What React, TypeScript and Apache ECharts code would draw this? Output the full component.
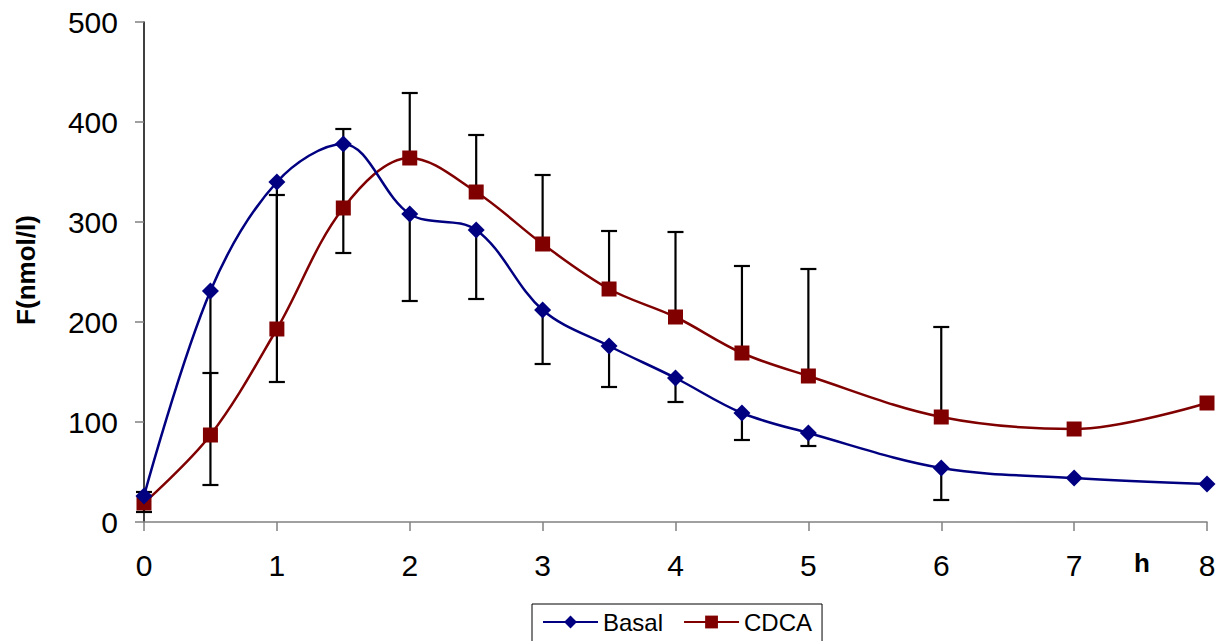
import React, { useEffect, useRef } from "react";
import * as echarts from "echarts";

const times = [0, 0.5, 1, 1.5, 2, 2.5, 3, 3.5, 4, 4.5, 5, 6, 7, 8];
const basal = [26, 231, 340, 378, 308, 292, 212, 176, 144, 109, 89, 54, 44, 38];
const cdca = [19, 87, 193, 314, 364, 330, 278, 233, 205, 169, 146, 105, 93, 119];
// error bar end points: CDCA upward, Basal downward
const cdcaUpperEnd: (number | null)[] = [30, 149, 327, 393, 429, 387, 347, 291, 290, 256, 253, 195, null, null];
const basalLowerEnd: (number | null)[] = [10, 37, 140, 269, 221, 223, 158, 135, 120, 82, 76, 22, null, null];
const yTicks = { min: 0, max: 500, interval: 100 };
const xTicks = { min: 0, max: 8, interval: 1 };

const FONT = "'Liberation Sans', Arial, sans-serif";

export default function App() {
  const ref = useRef<HTMLDivElement>(null);
  useEffect(() => {
    if (!ref.current) return;
    const chart = echarts.init(ref.current, undefined, { renderer: "svg" });
    const errData: number[][] = [];
    times.forEach((t, i) => {
      if (cdcaUpperEnd[i] != null) errData.push([t, cdca[i], cdcaUpperEnd[i] as number]);
      if (basalLowerEnd[i] != null) errData.push([t, basal[i], basalLowerEnd[i] as number]);
    });
    chart.setOption({
      animation: false,
      textStyle: { fontFamily: FONT },
      grid: { left: 144, right: 21, top: 22, bottom: 119 },
      xAxis: {
        type: "value",
        min: xTicks.min,
        max: xTicks.max,
        interval: xTicks.interval,
        splitLine: { show: false },
        axisLine: { lineStyle: { color: "#808080", width: 1.5 } },
        axisTick: { show: true, length: 9, lineStyle: { color: "#808080", width: 1.5 } },
        axisLabel: { fontSize: 30, color: "#000", margin: 28, fontFamily: FONT },
      },
      yAxis: {
        type: "value",
        min: yTicks.min,
        max: yTicks.max,
        interval: yTicks.interval,
        splitLine: { show: false },
        axisLine: { show: true, lineStyle: { color: "#000", width: 1.5 } },
        axisTick: { show: true, length: 9, lineStyle: { color: "#808080", width: 1.5 } },
        axisLabel: { fontSize: 30, color: "#000", margin: 26, fontFamily: FONT },
      },
      legend: {
        data: ["Basal", "CDCA"],
        left: 532,
        top: 604,
        orient: "horizontal",
        borderColor: "#000",
        borderWidth: 1,
        padding: [6, 10, 10, 10],
        itemWidth: 55,
        itemHeight: 16,
        itemGap: 20,
        textStyle: { fontSize: 24, color: "#000", fontFamily: FONT },
      },
      graphic: [
        {
          type: "text",
          x: 26,
          y: 270,
          rotation: Math.PI / 2,
          style: {
            text: "F(nmol/l)",
            font: `bold 26px ${FONT}`,
            fill: "#000",
            align: "center",
            verticalAlign: "middle",
          },
        },
        {
          type: "text",
          x: 1142,
          y: 563,
          style: {
            text: "h",
            font: `bold 26px ${FONT}`,
            fill: "#000",
            align: "center",
            verticalAlign: "middle",
          },
        },
      ],
      series: [
        {
          type: "custom",
          name: "err",
          z: 1,
          renderItem: (params: any, api: any) => {
            const x = api.value(0);
            const p0 = api.coord([x, api.value(1)]);
            const p1 = api.coord([x, api.value(2)]);
            const style = { stroke: "#000", lineWidth: 2.2 };
            return {
              type: "group",
              children: [
                { type: "line", shape: { x1: p0[0], y1: p0[1], x2: p1[0], y2: p1[1] }, style },
                { type: "line", shape: { x1: p1[0] - 8, y1: p1[1], x2: p1[0] + 8, y2: p1[1] }, style },
              ],
            };
          },
          data: errData,
        },
        {
          name: "Basal",
          type: "line",
          z: 3,
          smooth: 0.35,
          symbol: "diamond",
          symbolSize: 17,
          data: times.map((t, i) => [t, basal[i]]),
          lineStyle: { color: "#000080", width: 2.5 },
          itemStyle: { color: "#000080" },
        },
        {
          name: "CDCA",
          type: "line",
          z: 2,
          smooth: 0.35,
          symbol: "rect",
          symbolSize: 15,
          data: times.map((t, i) => [t, cdca[i]]),
          lineStyle: { color: "#800000", width: 2.5 },
          itemStyle: { color: "#800000" },
        },
      ],
    });
    return () => chart.dispose();
  }, []);
  return <div ref={ref} style={{ width: 1228, height: 641, position: "absolute", left: 0, top: 0, background: "#fff" }} />;
}
